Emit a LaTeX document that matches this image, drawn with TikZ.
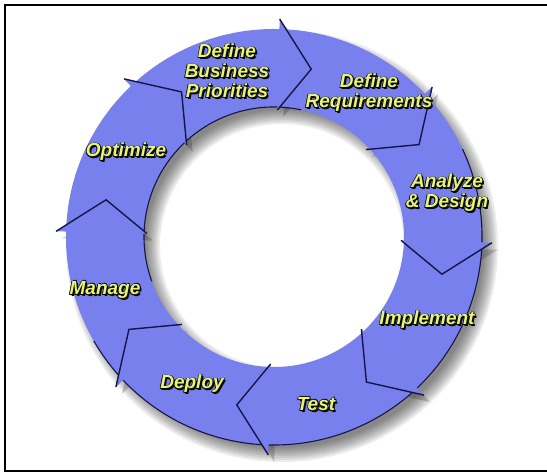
\documentclass[tikz,border=0pt]{standalone}
\usepackage{fontspec}
\setmainfont{Liberation Sans}
\usetikzlibrary{calc}
\definecolor{ringblue}{RGB}{120,128,238}
\definecolor{chevline}{RGB}{22,22,70}
\definecolor{lblyellow}{RGB}{232,244,120}
\definecolor{lbloutline}{RGB}{10,10,10}
\tikzset{
  lbltext/.style={align=center, inner sep=0pt, font=\fontsize{19}{20}\selectfont\bfseries\itshape},
  chev/.style={draw=chevline, line width=1.4pt, line join=miter},
  rimline/.style={draw=chevline, line width=1.1pt}
}
\newcommand\ringlabel[3]{%
  \foreach \dx/\dy/\k in {1.8/-1.8/s1,1.1/-1.1/s2,-0.7/0.4/s3,0.7/0.7/s4,-0.7/-0.7/s5,0.8/0/s6}{%
    \node[lbltext, text=lbloutline, xshift=\dx pt, yshift=\dy pt] (#1-\k) at (#2) {#3};}%
  \node[lbltext, text=lblyellow] (#1) at (#2) {#3};}
\begin{document}
\begin{tikzpicture}[x=1pt,y=1pt]
\useasboundingbox (0,0) rectangle (547,473);
\fill[white] (0,0) rectangle (547,473);
\coordinate (C) at (274,236);
% shadow of ring
\foreach \j in {0,...,7}{
  \fill[black, opacity=0.075, even odd rule] (282,227) circle ({216-2*\j}) (282,227) circle ({122+2*\j});
}
\foreach \t in {88.5,43.5,-1.5,-46.5,-91.5,-136.5,-181.5,133.5}{
  \fill[black, opacity=0.18] ($(C)+(\t:218)+(6,-7)$) -- ($(C)+(\t-11:172)+(6,-7)$) -- ($(C)+(\t:127)+(6,-7)$) -- cycle;
}
% ring
\fill[ringblue, even odd rule] (C) circle (208) (C) circle (130);
\draw[rimline] ($(C)+(25:208)$) arc[start angle=25, end angle=-150, radius=208];
\draw[rimline] ($(C)+(78:130)$) arc[start angle=78, end angle=200, radius=130];
% arrow heads
\foreach \t in {88.5,43.5,-1.5,-46.5,-91.5,-136.5,-181.5,133.5}{
  \fill[ringblue] ($(C)+(\t:218)$) -- ($(C)+(\t-11:172)$) -- ($(C)+(\t:127)$) -- cycle;
  \draw[chev] ($(C)+(\t:218)$) -- ($(C)+(\t-11:172)$) -- ($(C)+(\t:127)$);
}
% labels
\ringlabel{dbp}{227,402}{Define\\Business\\Priorities}
\ringlabel{dreq}{369,380}{Define\\Requirements}
\ringlabel{anad}{447,280}{Analyze\\\& Design}
\ringlabel{impl}{427,153}{Implement}
\ringlabel{test}{316,69}{Test}
\ringlabel{depl}{192,89}{Deploy}
\ringlabel{mana}{105,183}{Manage}
\ringlabel{opti}{126,321}{Optimize}
% frame
\draw[line width=2pt, black] (547,468) -- (5,468) -- (5,2) -- (547,2);
\end{tikzpicture}
\end{document}
